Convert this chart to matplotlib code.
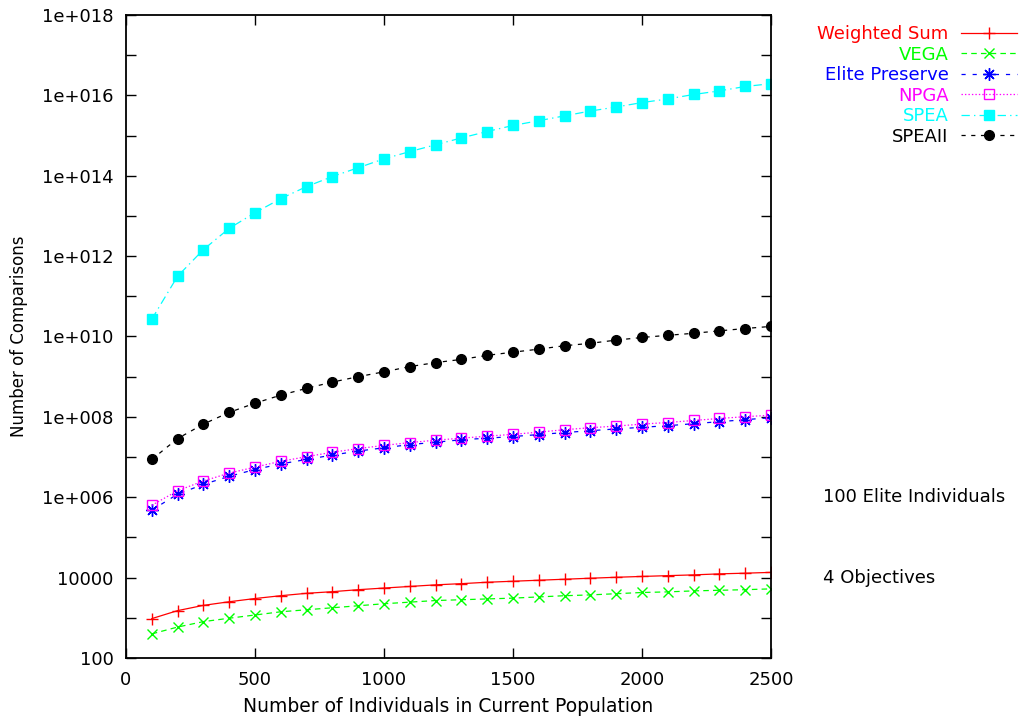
"""
Comparison count vs. population size for several MOEA selection schemes
(log-scale y, gnuplot-like look)
"""

import matplotlib
matplotlib.use("Agg")
import matplotlib.pyplot as plt

# population sizes
pop_sizes = list(range(100, 2600, 100))

# number of comparisons
weighted_sum = [955, 1510, 2040, 2510, 3020, 3550, 4070, 4470, 5010, 5500,
                6030, 6610, 7080, 7670, 8130, 8610, 9120, 9660, 10200, 10700,
                11200, 11700, 12400, 12900, 13500]
vega = [398, 589, 804, 977, 1175, 1413, 1585, 1778, 1995, 2239,
        2455, 2692, 2818, 2951, 3090, 3311, 3548, 3715, 3981, 4266,
        4416, 4677, 4842, 5012, 5248]
elite_preserve = [4.79e5, 1.19e6, 2.09e6, 3.31e6, 4.90e6, 6.76e6, 8.71e6, 1.12e7,
                  1.41e7, 1.70e7, 2.04e7, 2.34e7, 2.69e7, 2.95e7, 3.24e7, 3.63e7,
                  4.07e7, 4.52e7, 5.01e7, 5.50e7, 6.03e7, 6.76e7, 7.59e7, 8.51e7,
                  9.55e7]
npga = [6.31e5, 1.45e6, 2.54e6, 3.98e6, 5.62e6, 7.85e6, 1.02e7, 1.32e7,
        1.62e7, 1.95e7, 2.29e7, 2.63e7, 2.95e7, 3.31e7, 3.67e7, 4.17e7,
        4.79e7, 5.37e7, 5.89e7, 6.61e7, 7.24e7, 8.13e7, 9.12e7, 1.01e8,
        1.10e8]
spea = [2.69e10, 3.16e11, 1.45e12, 4.90e12, 1.20e13, 2.69e13, 5.37e13, 9.55e13,
        1.58e14, 2.63e14, 3.98e14, 5.89e14, 8.71e14, 1.26e15, 1.78e15, 2.34e15,
        3.09e15, 4.07e15, 5.13e15, 6.61e15, 8.13e15, 1.05e16, 1.29e16, 1.66e16,
        1.95e16]
speaii = [8.71e6, 2.88e7, 6.61e7, 1.29e8, 2.19e8, 3.47e8, 5.13e8, 7.33e8,
          1.00e9, 1.32e9, 1.78e9, 2.24e9, 2.69e9, 3.39e9, 4.07e9, 4.84e9,
          5.89e9, 6.76e9, 8.13e9, 9.44e9, 1.07e10, 1.20e10, 1.38e10, 1.58e10,
          1.78e10]

series_names = ["Weighted Sum", "VEGA", "Elite Preserve", "NPGA", "SPEA", "SPEAII"]

# y ticks: every decade, labels on every second one
y_exponents = list(range(2, 19))
y_labels = ["100", "", "10000"] + [("1e+%03d" % e) if e % 2 == 0 else "" for e in range(5, 19)]
x_ticks = [0, 500, 1000, 1500, 2000, 2500]

plt.rcParams['font.family'] = ['DejaVu Sans']
plt.rcParams['font.size'] = 13
plt.rcParams['lines.scale_dashes'] = False

fig = plt.figure(figsize=(10.21, 7.23), dpi=100)
ax = fig.add_axes([0.1234, 0.0899, 0.6317, 0.8894])

styles = [
    dict(color='#ff0000', linestyle='-', marker='+', markersize=9, markerfacecolor='none'),
    dict(color='#00ff00', linestyle=(0, (4, 3)), marker='x', markersize=7.5),
    dict(color='#0000ff', linestyle=(0, (3, 5)), marker=(8, 2, 0), markersize=9),
    dict(color='#ff00ff', linestyle=(0, (1, 1.5)), marker='s', markersize=7.5,
         markerfacecolor='none'),
    dict(color='#00ffff', linestyle=(0, (6, 3, 1, 3)), marker='s', markersize=7.5),
    dict(color='#000000', linestyle=(0, (3, 4)), marker='o', markersize=7),
]
all_series = [weighted_sum, vega, elite_preserve, npga, spea, speaii]

for name, values, st in zip(series_names, all_series, styles):
    ax.plot(pop_sizes, values, label=name, linewidth=0.9, markeredgewidth=1.0, **st)

ax.set_yscale('log')
ax.set_xlim(0, 2500)
ax.set_ylim(1e2, 1e18)
ax.set_yticks([10.0 ** e for e in y_exponents])
ax.set_yticklabels(y_labels)
ax.yaxis.set_minor_locator(matplotlib.ticker.NullLocator())
ax.set_xticks(x_ticks)
ax.tick_params(direction='in', length=7, width=1.0, top=True, right=True, pad=9)
for sp in ax.spines.values():
    sp.set_linewidth(1.3)

ax.set_xlabel("Number of Individuals in Current Population", labelpad=6, fontsize=13.5)
ax.set_ylabel("Number of Comparisons", labelpad=10, fontsize=12)

# annotations to the right of the plot
ax.text(2700, 1e6, "100 Elite Individuals", va='center', ha='left', clip_on=False)
ax.text(2700, 1e4, "4 Objectives", va='center', ha='left', clip_on=False)

leg = ax.legend(loc='upper right', bbox_to_anchor=(1017 / 1021, 1 - 25 / 723),
                bbox_transform=fig.transFigure, frameon=False, markerfirst=False,
                borderaxespad=0, borderpad=0, handlelength=3.1, handletextpad=0.7,
                labelspacing=0.14, numpoints=1)
for txt, st in zip(leg.get_texts(), styles):
    txt.set_color(st['color'])

fig.savefig("out.png", dpi=100)
